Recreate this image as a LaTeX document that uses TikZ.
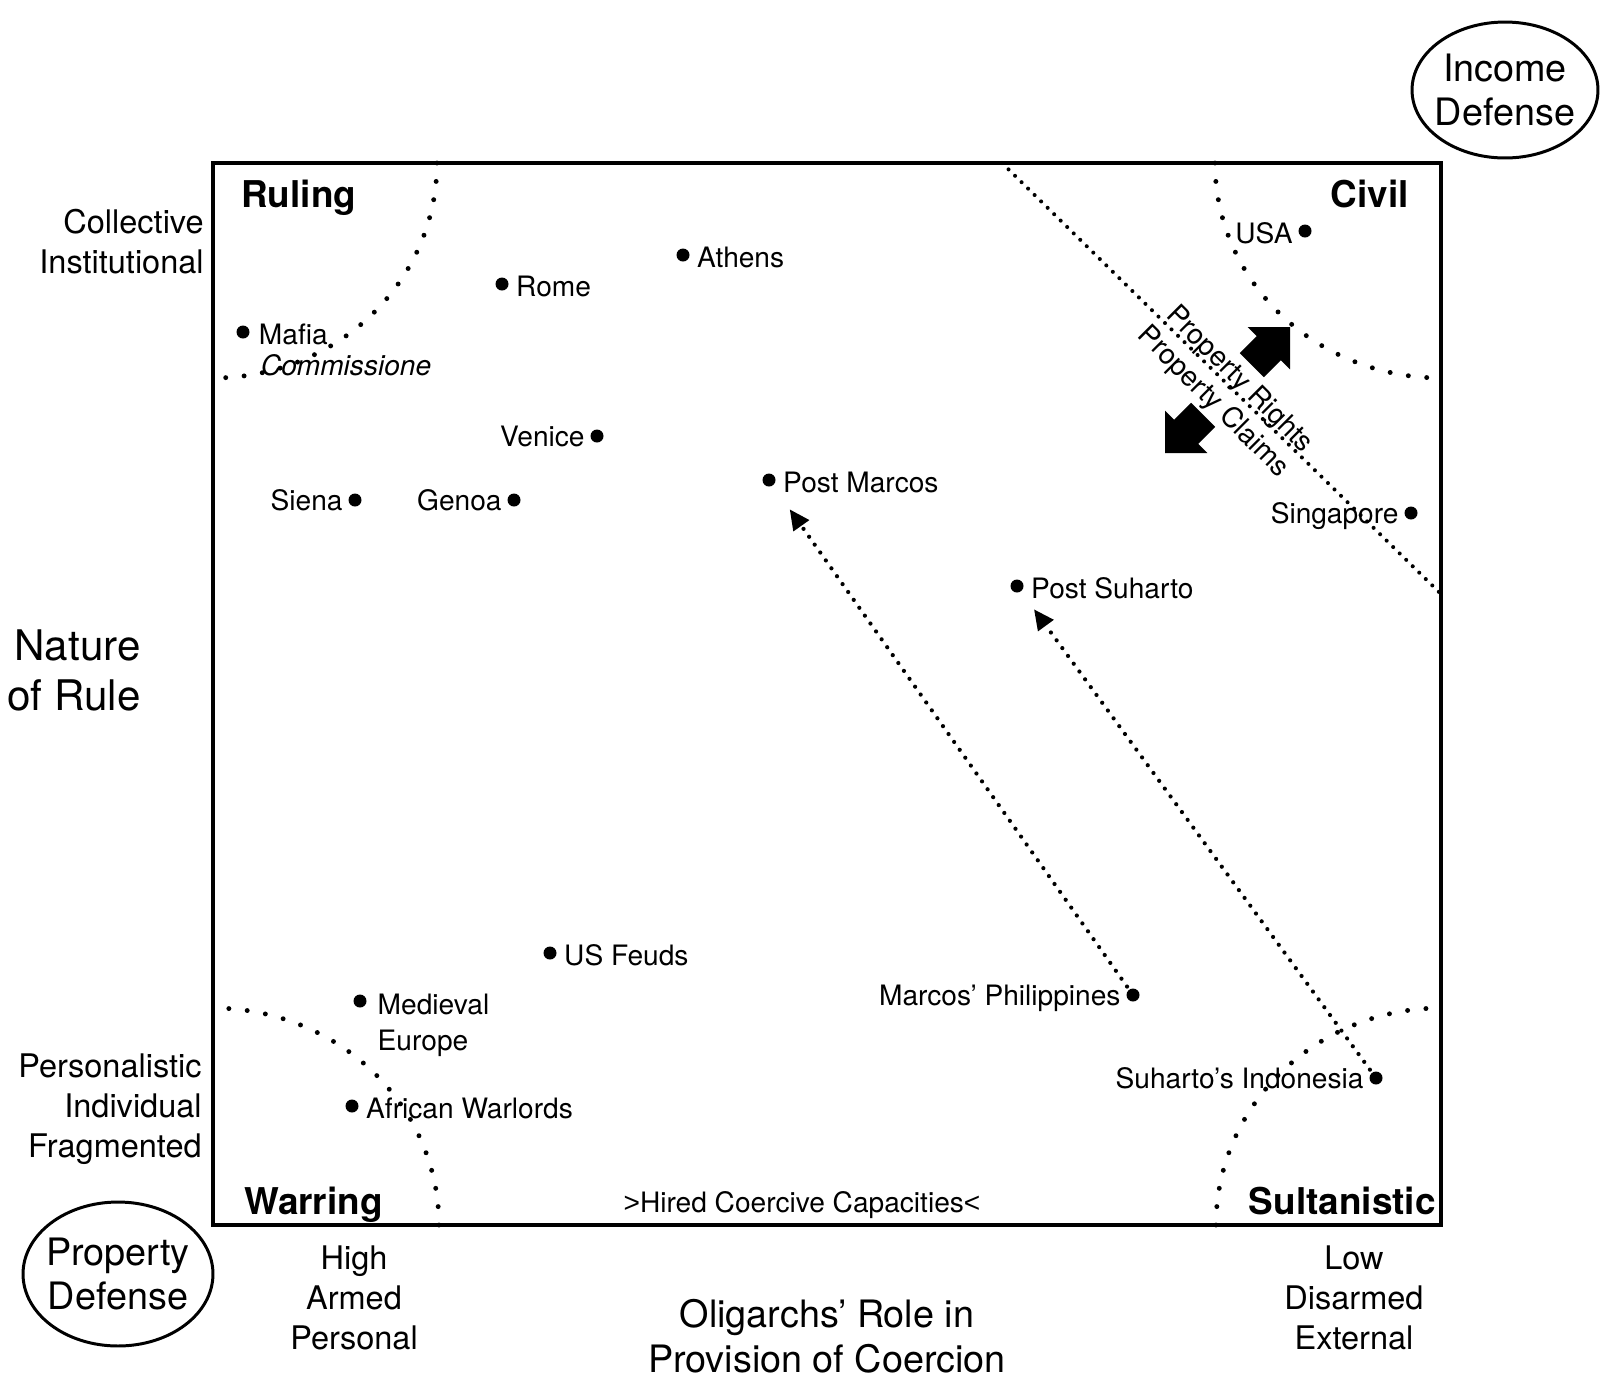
\documentclass[tikz,border=0pt]{standalone}
\usepackage{fontspec}
\setmainfont{TeX Gyre Heros}
\newfontfamily\signfont{Liberation Sans}
\usetikzlibrary{positioning,shapes.geometric,arrows.meta,calc}

\tikzset{
  spot/.style={circle,fill,inner sep=0pt,minimum size=.26cm},
  lbl/.style={inner sep=0pt,font=\fontsize{16}{19}\selectfont,text height=11.5pt,text depth=0pt},
  rlbl/.style={lbl,text height=14.5pt},
  axislbl/.style={inner sep=0pt,align=right,font=\fontsize{18.5}{22.7}\selectfont},
  quad/.style={inner sep=0pt,font=\fontsize{21}{25}\selectfont\bfseries},
  defense/.style={draw,ellipse,line width=1.7pt,inner sep=0pt,inner xsep=-4pt,align=center,font=\fontsize{21.5}{25.5}\selectfont},
  dotcurve/.style={line width=2.8pt,line cap=round,dash pattern=on 0pt off 10.5pt},
  dotline/.style={line width=2.4pt,line cap=round,dash pattern=on 0pt off 5.5pt},
  blockarrow/.style={fill=black,line join=round},
}

\begin{document}
\begin{tikzpicture}[x=0.02cm,y=-0.02cm]
\useasboundingbox (0,0) rectangle (1600,1377);

% frame
\draw[line width=2.8pt] (213,163) rectangle (1441,1225);

% quadrant boundaries
\draw[dotcurve] plot[domain=0:90,samples=60] ({213+224*cos(\x)},{163+215*sin(\x)});
\draw[dotcurve] plot[domain=0:90,samples=60] ({1441-226*cos(\x)},{163+215*sin(\x)});
\draw[dotcurve] plot[domain=0:90,samples=60] ({213+226*cos(\x)},{1225-217*sin(\x)});
\draw[dotcurve] plot[domain=0:90,samples=60] ({1441-225*cos(\x)},{1225-217*sin(\x)});

\coordinate (diagtop) at (1002,163);
\coordinate (diagend) at (1441,594);
\draw[line width=2.3pt,line cap=round,dash pattern=on 0pt off 5.2pt] (diagtop) -- (diagend);

% corner labels
\node[quad,anchor=base west] (ruling) at (241,207) {Ruling};
\node[quad,anchor=base east] (civil) at (1409,207) {Civil};
\node[quad,anchor=base west] (warring) at (244,1214) {Warring};
\node[quad,anchor=base east] (sultan) at (1436,1214) {Sultanistic};
\node[lbl,anchor=base,text height=] (hired) at (802,1212) {{\signfont>}Hired Coercive Capacities{\signfont<}};

% cases
\node[spot] (usa) at (1305,231) {};
\node[rlbl,left=3pt of usa] (usaL) {USA};
\node[spot] (athens) at (683,255) {};
\node[rlbl,right=4pt of athens] (athensL) {Athens};
\node[spot] (rome) at (502,284) {};
\node[rlbl,right=4pt of rome] (romeL) {Rome};
\node[spot] (mafia) at (243,332) {};
\node[rlbl,right=5pt of mafia] (mafiaL) {Mafia};
\node[lbl,anchor=west,font=\fontsize{16}{19}\selectfont\itshape] (commissioneL) at ($(mafiaL.west)+(2,33)$) {Commissione};
\node[spot] (venice) at (597,436) {};
\node[lbl,left=3pt of venice] (veniceL) {Venice};
\node[spot] (siena) at (355,500) {};
\node[lbl,left=3pt of siena] (sienaL) {Siena};
\node[spot] (genoa) at (514,500) {};
\node[lbl,left=3pt of genoa] (genoaL) {Genoa};
\node[spot] (postmarcos) at (769,480) {};
\node[rlbl,right=4pt of postmarcos] (postmarcosL) {Post Marcos};
\node[spot] (singapore) at (1411,513) {};
\node[lbl,left=3pt of singapore] (singaporeL) {Singapore};
\node[spot] (postsuharto) at (1017,586) {};
\node[rlbl,right=4pt of postsuharto] (postsuhartoL) {Post Suharto};
\node[spot] (usfeuds) at (550,953) {};
\node[rlbl,right=4pt of usfeuds] (usfeudsL) {US Feuds};
\node[spot] (medieval) at (360,1001) {};
\node[rlbl,right=6pt of medieval,text height=15.5pt] (medievalL) {Medieval};
\node[lbl,anchor=west] (europeL) at ($(medievalL.west)+(0,39)$) {Europe};
\node[spot] (african) at (352,1106) {};
\node[rlbl,right=4pt of african] (africanL) {African Warlords};
\node[spot] (marcos) at (1133,995) {};
\node[lbl,left=3pt of marcos] (marcosL) {Marcos’ Philippines};
\node[spot] (suharto) at (1376,1078) {};
\node[lbl,left=3pt of suharto] (suhartoL) {Suharto’s Indonesia};

% transitions
\draw[dotline,-{Triangle[length=11.5pt,width=10.5pt]},shorten <=2pt,shorten >=16.5pt] (marcos) -- (postmarcos);
\draw[dotline,-{Triangle[length=11.5pt,width=10.5pt]},shorten <=2pt,shorten >=12.5pt] (suharto) -- (postsuharto);

% property rights / claims
\begin{scope}[shift={(1290,327)},rotate=45]
\fill[blockarrow] (0,0) -- (-30,-30) -- (-30,-17) -- (-54,-17) -- (-54,17) -- (-30,17) -- (-30,30) -- cycle;
\end{scope}
\begin{scope}[shift={(1165,453)},rotate=225]
\fill[blockarrow] (0,0) -- (-30,-30) -- (-30,-17) -- (-54,-17) -- (-54,17) -- (-30,17) -- (-30,30) -- cycle;
\end{scope}
\node[lbl,rotate=-45] (rights) at (1241,378) {Property Rights};
\node[lbl,rotate=-45] (claims) at (1215,400) {Property Claims};

% axes
\node[axislbl,anchor=east] (collective) at (204,242) {Collective\\Institutional};
\node[axislbl,anchor=east] (personalistic) at (202,1109) {Personalistic\\Individual\\Fragmented};
\node[axislbl,anchor=east,font=\fontsize{24}{28.5}\selectfont] (nature) at (141,670) {Nature\\of Rule};
\node[axislbl,align=center] (high) at (354,1298) {High\\Armed\\Personal};
\node[axislbl,align=center] (low) at (1354,1298) {Low\\Disarmed\\External};
\node[axislbl,align=center,font=\fontsize{21.5}{25.5}\selectfont] (role) at (827,1336) {Oligarchs’ Role in\\Provision of Coercion};

% defense ovals
\node[defense,minimum width=3.72cm,minimum height=2.72cm] (income) at (1505,90) {Income\\Defense};
\node[defense,minimum width=3.8cm,minimum height=2.88cm] (property) at (118,1274) {Property\\Defense};
\end{tikzpicture}
\end{document}
